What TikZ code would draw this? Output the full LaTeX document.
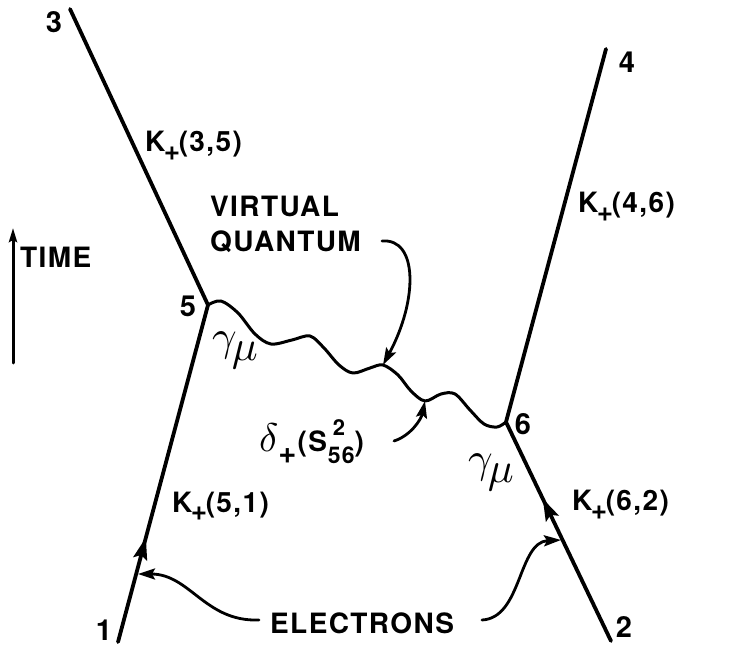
\documentclass[tikz,border=0pt]{standalone}
\usepackage{graphicx}
\usepackage{amsmath}
\usepackage{fontspec}
\setmainfont{TeX Gyre Heros}[LetterSpace=5]
\usetikzlibrary{arrows.meta,decorations.markings}
\newcommand\Kplus[1]{K\kern-1.5pt\raisebox{-0.32em}{+}\kern-1.5pt(#1)}
\newcommand\bigmath[2]{\scalebox{#1}{\normalsize$#2$}}
\begin{document}
\begin{tikzpicture}[x=1pt,y=-1pt, line cap=round, line join=round,
  world/.style={line width=3.8pt},
  wave/.style={line width=3pt},
  pointer/.style={line width=2.8pt},
  tip/.style={-{Stealth[length=17pt,width=11pt,inset=3pt]}},
  lbl/.style={font=\fontsize{28}{32}\selectfont\bfseries, inner sep=0pt, anchor=base west},
  num/.style={font=\fontsize{29}{32}\selectfont\bfseries, inner sep=0pt},
  gam/.style={inner sep=0pt},
  ]
\useasboundingbox (0,0) rectangle (732,647);
% vertices and ends
\coordinate (v5) at (208,305);
\coordinate (v6) at (506,422);
\coordinate (e3) at (70,9);
\coordinate (e1) at (118,642);
\coordinate (e4) at (606,49);
\coordinate (e2) at (611,641);
% world lines
\draw[world] (e3) -- (v5);
\draw[world] (e4) -- (v6);
\draw[world, postaction={decorate}, decoration={markings,
   mark=at position 0.31 with {\arrow{Stealth[length=22pt,width=14pt,inset=4pt]}}}] (e1) -- (v5);
\draw[world, postaction={decorate}, decoration={markings,
   mark=at position 0.65 with {\arrow{Stealth[length=22pt,width=14pt,inset=4pt]}}}] (e2) -- (v6);
% virtual quantum (wavy)
\coordinate (wq) at (383,365);
\coordinate (wd) at (425,401);
\draw[wave] plot[smooth, tension=0.55] coordinates {(v5) (221,301) (238,313) (255,334) (271,344) (292,340) (310,336) (324,348) (339,365) (353,373) (370,368) (wq) (398,375) (411,391) (wd) (441,394) (455,394) (470,410) (484,424) (497,427) (v6)};
% labels of ends
\node[num] (n3) at (54,22) {3};
\node[num] (n5) at (188,306) {5};
\node[num] (n6) at (523,424) {6};
\node[num] (n4) at (627,62) {4};
\node[num] (n2) at (624,627) {2};
\node[num] (n1) at (104,630) {1};
% propagators
\node[lbl] (k35) at (145,152) {\Kplus{3,5}};
\node[lbl] (k46) at (578,213) {\Kplus{4,6}};
\node[lbl] (k51) at (172,512) {\Kplus{5,1}};
\node[lbl] (k62) at (572,511) {\Kplus{6,2}};
% gammas
\node[gam] (g5) at (235,350) {\bigmath{4.3}{\gamma}\kern-5pt\raisebox{-10pt}{\bigmath{4.3}{\mu}}};
\node[gam] (g6) at (491,472) {\bigmath{4.3}{\gamma}\kern-5pt\raisebox{-10pt}{\bigmath{4.3}{\mu}}};
% virtual quantum label
\node[lbl] (vt) at (210,217) {VIRTUAL};
\node[lbl] (qt) at (210,252) {QUANTUM};
\draw[pointer, tip] (382,241) .. controls (418,238) and (418,300) .. (wq);
% delta label
\node[lbl] (dl) at (259,452) {\bigmath{4}{\delta}\kern0pt\raisebox{-0.4em}{\fontsize{31}{31}\selectfont+}\kern1pt(S\kern1pt\rlap{\kern5pt\raisebox{0.6em}{\fontsize{22}{22}\selectfont 2}}\raisebox{-0.4em}{\fontsize{23}{23}\selectfont 56})};
\draw[pointer, tip] (394,441) .. controls (410,436) and (421,420) .. (wd);
% time
\coordinate (t0) at (13,363);
\coordinate (t1) at (13,228);
\draw[line width=3pt, -{Stealth[length=14pt,width=8pt,inset=2pt]}] (t0) -- (t1);
\node[lbl] (tm) at (20,268) {TIME};
% electrons
\node[lbl] (el) at (270,633) {ELECTRONS};
\coordinate (eL) at (138,574);
\coordinate (eR) at (561,540);
\draw[pointer, tip] (259,620) .. controls (205,622) and (190,574) .. (eL);
\draw[pointer, tip] (482,620) .. controls (522,618) and (518,542) .. (eR);
\end{tikzpicture}
\end{document}
